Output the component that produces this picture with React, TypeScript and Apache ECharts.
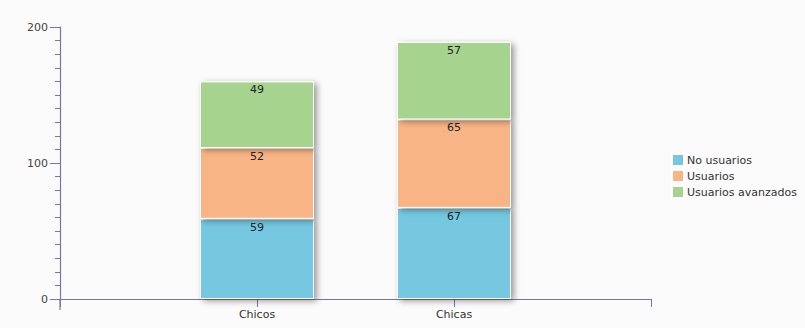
import React, { useEffect, useRef } from "react";
import * as echarts from "echarts";

const categories = ["", "Chicos", "Chicas", ""];
const noUsuarios = [null, 59, 67, null];
const usuarios = [null, 52, 65, null];
const avanzados = [null, 49, 57, null];
const seriesNames = ["No usuarios", "Usuarios", "Usuarios avanzados"];
const colors = ["#74c8e0", "#f8b485", "#a6d48e"];

export default function App() {
  const ref = useRef<HTMLDivElement>(null);
  useEffect(() => {
    if (!ref.current) return;
    const chart = echarts.init(ref.current, undefined, { renderer: "svg" });
    const mk = (name: string, data: (number | null)[], color: string) => ({
      name,
      type: "bar",
      stack: "total",
      data,
      barWidth: 114,
      yAxisIndex: 0,
      itemStyle: {
        color,
        borderColor: "#ffffff",
        borderWidth: 1,
        shadowColor: "rgba(0,0,0,0.4)",
        shadowBlur: 6,
        shadowOffsetX: 3,
        shadowOffsetY: 2,
      },
      label: {
        show: true,
        position: "insideTop",
        distance: 3,
        color: "#222",
        fontSize: 11,
        fontFamily: "DejaVu Sans",
      },
    });
    chart.setOption({
      animation: false,
      backgroundColor: "#fbfbfb",
      textStyle: { fontFamily: "DejaVu Sans" },
      grid: { left: 60, right: 154, top: 27, bottom: 29 },
      legend: {
        orient: "vertical",
        left: 666,
        top: 148,
        icon: "rect",
        itemWidth: 12,
        itemHeight: 12,
        itemGap: 2,
        textStyle: { fontSize: 11, color: "#333", padding: [0, 0, 0, -2] },
        data: seriesNames,
      },
      xAxis: {
        type: "category",
        data: categories,
        boundaryGap: false,
        axisLine: { lineStyle: { color: "#7a72b8", width: 1.2 } },
        axisTick: { show: true, length: 8, lineStyle: { color: "#7a72b8" } },
        axisLabel: { color: "#333", fontSize: 11, margin: 10, interval: 0 },
        splitLine: { show: false },
      },
      yAxis: [
        {
          type: "value",
          position: "left",
          min: 0,
          max: 200,
          interval: 100,
          axisLine: { show: true, lineStyle: { color: "#7a72b8", width: 1.2 } },
          axisTick: { show: true, length: 10, lineStyle: { color: "#7a72b8" } },
          axisLabel: { color: "#444", fontSize: 11, margin: 12 },
          splitLine: { show: false },
        },
        {
          type: "value",
          position: "left",
          offset: 0,
          min: 0,
          max: 200,
          interval: 10,
          axisLine: { show: false },
          axisTick: { show: true, length: 5, lineStyle: { color: "#7a72b8" } },
          axisLabel: { show: false },
          splitLine: { show: false },
        },
      ],
      graphic: [
        {
          type: "line",
          shape: { x1: 60, y1: 299, x2: 60, y2: 310 },
          style: { stroke: "#7a72b8", lineWidth: 1.2 },
        },
      ],
      series: [
        mk(seriesNames[0], noUsuarios, colors[0]),
        mk(seriesNames[1], usuarios, colors[1]),
        mk(seriesNames[2], avanzados, colors[2]),
      ],
    });
    return () => chart.dispose();
  }, []);
  return <div ref={ref} style={{ width: 805, height: 328, position: "absolute", left: 0, top: 0 }} />;
}
